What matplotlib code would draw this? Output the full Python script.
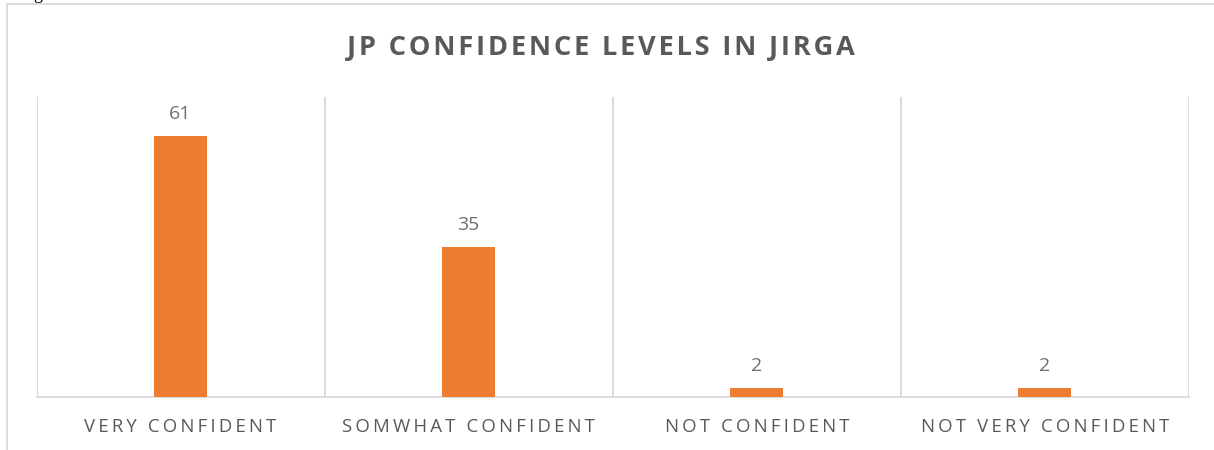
import matplotlib.pyplot as plt
from matplotlib.patches import Rectangle
import numpy as np

# chart data
categories = ['VERY CONFIDENT', 'SOMWHAT CONFIDENT', 'NOT CONFIDENT', 'NOT VERY CONFIDENT']
values = [61, 35, 2, 2]
title = 'JP CONFIDENCE LEVELS IN JIRGA'

bar_color = '#ED7D31'
grid_color = '#D9D9D9'
text_color = '#595959'
label_color = '#6E6E6E'

plt.rcParams['font.family'] = ['Open Sans', 'DejaVu Sans']


def spaced(s, sep='\u200a'):
    # imitate the wide letter spacing of the office chart
    return sep.join(list(s))


W, H = 1214, 450
fig = plt.figure(figsize=(W / 100, H / 100), dpi=100)

# outer chart border (runs off the right and bottom of the crop)
fig.patches.append(Rectangle((7 / W, -0.1), 1.2, 1 - 4 / H + 0.1, transform=fig.transFigure,
                             fill=False, edgecolor=grid_color, linewidth=1.3))

# bit of the caption text above the chart that is cut off
fig.text(33 / W, 1 + 1 / H, 'g', family='Liberation Serif', fontsize=13, color='black',
         ha='left', va='baseline')

ax = fig.add_axes([36.5 / W, 1 - 397 / H, (1189 - 36.5) / W, 300 / H])
x = np.arange(len(categories))
ax.bar(x, values, width=0.184, color=bar_color, zorder=3)

ax.set_xlim(-0.5, len(categories) - 0.5)
ax.set_ylim(0, 70)
ax.set_yticks([])

# vertical category separators
for b in np.arange(-0.5, len(categories), 1.0):
    ax.axvline(b, color=grid_color, linewidth=1.3, zorder=1)

for s in ['top', 'right', 'left']:
    ax.spines[s].set_visible(False)
ax.spines['bottom'].set_color(grid_color)
ax.spines['bottom'].set_linewidth(1.3)

ax.set_xticks(x)
ax.set_xticklabels([spaced(c, '\u2009') for c in categories], fontsize=13.4, color=text_color)
ax.tick_params(axis='x', length=0, pad=25.5)
plt.setp(ax.get_xticklabels(), va='baseline')

# data labels
for xi, v in zip(x, values):
    ax.annotate(str(v), (xi, v), xytext=(0, 12.2), textcoords='offset points',
                ha='center', va='baseline', fontsize=14, color=label_color)

fig.text(601 / W, 1 - 55 / H, spaced(title), fontsize=19.6, fontweight='bold',
         color=text_color, ha='center', va='baseline')

fig.savefig('out.png', dpi=100)
